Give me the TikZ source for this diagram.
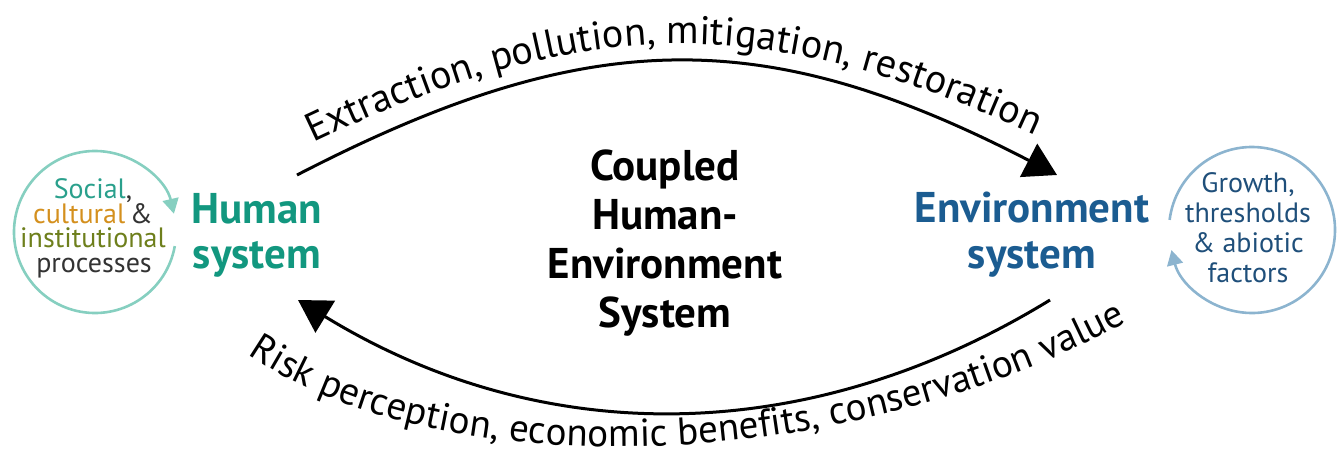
\documentclass[tikz,border=0pt]{standalone}
\usepackage{fontspec}
\setmainfont{PT Sans}
\usetikzlibrary{decorations.text,arrows.meta}
\definecolor{hteal}{HTML}{12977F}
\definecolor{eblue}{HTML}{1B5C91}
\definecolor{lcirc}{HTML}{86CFC0}
\definecolor{rcirc}{HTML}{8CB4CF}
\definecolor{csoc}{HTML}{2AA08C}
\definecolor{ccul}{HTML}{D4901E}
\definecolor{cins}{HTML}{6E7F1C}
\definecolor{cgray}{HTML}{333333}
\definecolor{rtext}{HTML}{1F4F7A}
\tikzset{
  mainarc/.style={line width=3pt, -{Triangle[length=32pt,width=37pt]}},
  circarc/.style={line width=2.6pt, -{Triangle[length=15pt,width=16pt]}},
  bline/.style={anchor=base, inner sep=0pt},
  sysname/.style={bline, font=\fontsize{43}{45}\selectfont\bfseries},
  centertxt/.style={bline, font=\fontsize{43}{45}\selectfont\bfseries},
  smalltxt/.style={bline, font=\fontsize{28}{30}\selectfont},
}
\begin{document}
\begin{tikzpicture}[x=1pt,y=-1pt]
\useasboundingbox (0,0) rectangle (1338,461);
% system names
\node[sysname, text=hteal] (human) at (257,223) {Human};
\node[sysname, text=hteal] (humansys) at (257,268) {system};
\node[sysname, text=eblue] (env) at (1032,222) {Environment};
\node[sysname, text=eblue] (envsys) at (1032,268) {system};
% centre
\node[centertxt] (c1) at (665,180) {Coupled};
\node[centertxt] (c2) at (665,229) {Human-};
\node[centertxt] (c3) at (665,278) {Environment};
\node[centertxt] (c4) at (665,327) {System};
% arc endpoints
\coordinate (h1) at (297,175);
\coordinate (e1) at (1057,175);
\coordinate (e2) at (1050,300);
\coordinate (h2) at (298,300);
\draw[mainarc] (h1) .. controls (589,24) and (765,24) .. (e1);
\draw[mainarc] (e2) .. controls (807,449) and (541,449) .. (h2);
% texts along arcs
\path[decorate, decoration={text along path, text align=center,
  text={|\fontsize{40}{42}\selectfont|Extraction, pollution, mitigation, restoration}}]
  (298,150) .. controls (585,10) and (770,10) .. (1050,142);
\path[decorate, decoration={text along path, text align=center,
  text={|\fontsize{39}{42}\selectfont|Risk perception, economic benefits, conservation value}}]
  (235,345) .. controls (430,492) and (850,478) .. (1140,315);
% left circle
\coordinate (lc) at (95,232);
\draw[lcirc, circarc] (lc) ++(10:81) arc[start angle=10, end angle=347, radius=81];
\node[smalltxt] (l1) at (93,198) {\textcolor{csoc}{Social}\textcolor{cgray}{,}};
\node[smalltxt] (l2) at (93,223) {\textcolor{ccul}{cultural}\,\textcolor{cgray}{\&}};
\node[smalltxt, text=cins] (l3) at (93,247) {institutional};
\node[smalltxt, text=cgray] (l4) at (94,272) {processes};
% right circle
\coordinate (rc) at (1252,230);
\draw[rcirc, circarc] (rc) ++(-173:83) arc[start angle=-173, end angle=166, radius=83];
\node[smalltxt, text=rtext] (r1) at (1248,192) {Growth,};
\node[smalltxt, text=rtext] (r2) at (1248,222) {thresholds};
\node[smalltxt, text=rtext] (r3) at (1248,252) {\& abiotic};
\node[smalltxt, text=rtext] (r4) at (1248,282) {factors};
\end{tikzpicture}
\end{document}
